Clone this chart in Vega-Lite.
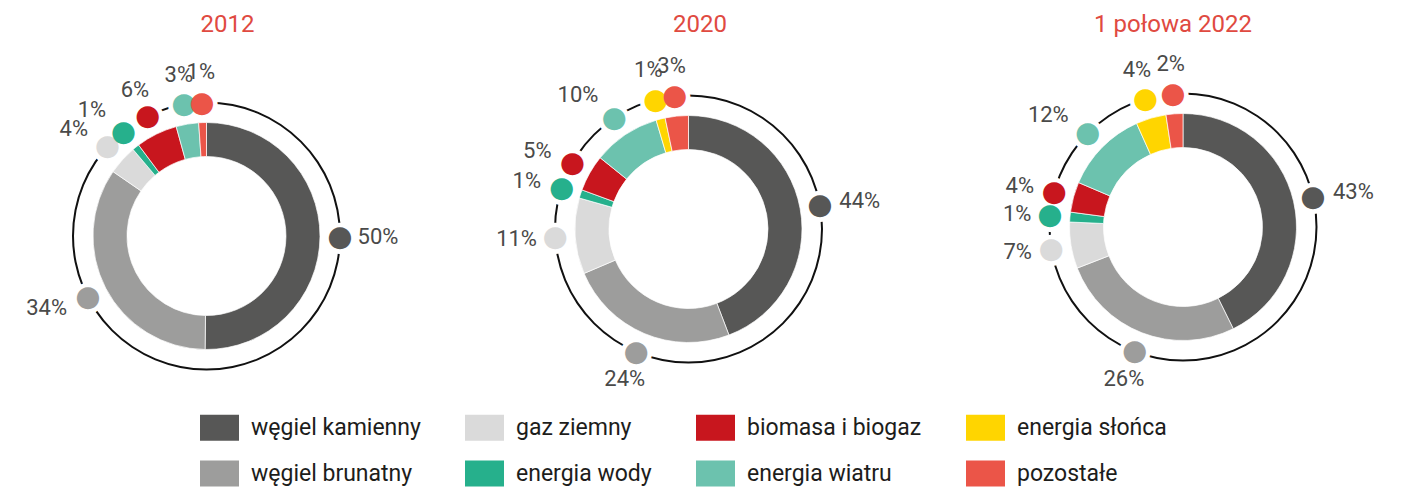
{
  "$schema": "https://vega.github.io/schema/vega-lite/v6.json",
  "background": "white",
  "padding": 0,
  "spacing": 0,
  "config": {"view": {"stroke": null, "fill": "white"}},
  "datasets": {
    "d": [
      {"rok":"2012","zrodlo":"węgiel kamienny","k":1,"udzial":50.2,"etykieta":"50%"},
      {"rok":"2012","zrodlo":"węgiel brunatny","k":2,"udzial":34.4,"etykieta":"34%"},
      {"rok":"2012","zrodlo":"gaz ziemny","k":3,"udzial":4.2,"etykieta":"4%"},
      {"rok":"2012","zrodlo":"energia wody","k":4,"udzial":1.0,"etykieta":"1%"},
      {"rok":"2012","zrodlo":"biomasa i biogaz","k":5,"udzial":5.9,"etykieta":"6%"},
      {"rok":"2012","zrodlo":"energia wiatru","k":6,"udzial":3.2,"etykieta":"3%"},
      {"rok":"2012","zrodlo":"pozostałe","k":8,"udzial":1.1,"etykieta":"1%"},
      {"rok":"2020","zrodlo":"węgiel kamienny","k":1,"udzial":44.2,"etykieta":"44%"},
      {"rok":"2020","zrodlo":"węgiel brunatny","k":2,"udzial":24.4,"etykieta":"24%"},
      {"rok":"2020","zrodlo":"gaz ziemny","k":3,"udzial":10.8,"etykieta":"11%"},
      {"rok":"2020","zrodlo":"energia wody","k":4,"udzial":1.2,"etykieta":"1%"},
      {"rok":"2020","zrodlo":"biomasa i biogaz","k":5,"udzial":5.2,"etykieta":"5%"},
      {"rok":"2020","zrodlo":"energia wiatru","k":6,"udzial":9.6,"etykieta":"10%"},
      {"rok":"2020","zrodlo":"energia słońca","k":7,"udzial":1.3,"etykieta":"1%"},
      {"rok":"2020","zrodlo":"pozostałe","k":8,"udzial":3.3,"etykieta":"3%"},
      {"rok":"2022","zrodlo":"węgiel kamienny","k":1,"udzial":42.7,"etykieta":"43%"},
      {"rok":"2022","zrodlo":"węgiel brunatny","k":2,"udzial":26.4,"etykieta":"26%"},
      {"rok":"2022","zrodlo":"gaz ziemny","k":3,"udzial":6.6,"etykieta":"7%"},
      {"rok":"2022","zrodlo":"energia wody","k":4,"udzial":1.4,"etykieta":"1%"},
      {"rok":"2022","zrodlo":"biomasa i biogaz","k":5,"udzial":4.3,"etykieta":"4%"},
      {"rok":"2022","zrodlo":"energia wiatru","k":6,"udzial":11.9,"etykieta":"12%"},
      {"rok":"2022","zrodlo":"energia słońca","k":7,"udzial":4.3,"etykieta":"4%"},
      {"rok":"2022","zrodlo":"pozostałe","k":8,"udzial":2.4,"etykieta":"2%"}
    ]
  },
  "resolve": {"scale": {"color": "shared", "theta": "independent"}, "legend": {"color": "shared"}},
  "hconcat": [
    {
      "width": 413, "height": 472,
      "title": {"text": "2012", "dx": 21, "offset": -56, "baseline": "alphabetic", "anchor": "middle", "font": "Roboto", "fontSize": 24, "fontWeight": "normal", "color": "#e04a41"},
      "data": {"name": "d"},
      "transform": [{"filter": "datum.rok == '2012'"}],
      "layer": [
        {"data": {"values": [{"rok": "2012"}]}, "mark": {"type": "arc", "radius": 134.5, "radius2": 132.5, "theta": 0, "theta2": 6.2832, "color": "#111111"}, "encoding": {}},
        {"mark": {"type": "arc", "radius": 113.5, "radius2": 79.5, "stroke": "white", "strokeWidth": 0.7},
         "encoding": {"theta": {"field": "udzial", "type": "quantitative", "stack": true}, "order": {"field": "k", "type": "quantitative"},
           "color": {"field": "zrodlo", "type": "nominal",
             "scale": {"domain": ["węgiel kamienny","węgiel brunatny","gaz ziemny","energia wody","biomasa i biogaz","energia wiatru","energia słońca","pozostałe"], "range": ["#575756","#9d9d9c","#dadada","#26b08c","#c8161e","#6cc2ae","#ffd500","#eb5548"]},
             "legend": {"orient": "none", "legendX": 200, "legendY": 408, "columns": 4, "title": null, "symbolType": "M-1,-0.667H1V0.667H-1Z", "symbolSize": 1521, "symbolStrokeWidth": 0, "symbolOpacity": 1, "labelFont": "Roboto", "labelFontSize": 23, "labelColor": "#1d1d1b", "labelOffset": 12, "columnPadding": 44, "rowPadding": 13, "padding": 0, "labelLimit": 400}}}},
        {"mark": {"type": "text", "text": "●", "radius": 133.5, "font": "DejaVu Sans", "fontSize": 41, "color": "white", "align": "center", "baseline": "middle"},
         "encoding": {"theta": {"field": "udzial", "type": "quantitative", "stack": true}, "order": {"field": "k", "type": "quantitative"}, "detail": {"field": "zrodlo"}}},
        {"mark": {"type": "text", "text": "●", "radius": 133.5, "font": "DejaVu Sans", "fontSize": 29, "align": "center", "baseline": "middle"},
         "encoding": {"theta": {"field": "udzial", "type": "quantitative", "stack": true}, "order": {"field": "k", "type": "quantitative"},
           "color": {"field": "zrodlo", "type": "nominal",
             "scale": {"domain": ["węgiel kamienny","węgiel brunatny","gaz ziemny","energia wody","biomasa i biogaz","energia wiatru","energia słońca","pozostałe"], "range": ["#575756","#9d9d9c","#dadada","#26b08c","#c8161e","#6cc2ae","#ffd500","#eb5548"]},
             "legend": {"orient": "none", "legendX": 200, "legendY": 408, "columns": 4, "title": null, "symbolType": "M-1,-0.667H1V0.667H-1Z", "symbolSize": 1521, "symbolStrokeWidth": 0, "symbolOpacity": 1, "labelFont": "Roboto", "labelFontSize": 23, "labelColor": "#1d1d1b", "labelOffset": 12, "columnPadding": 44, "rowPadding": 13, "padding": 0, "labelLimit": 400}}}},
        {"mark": {"type": "text", "radius": {"expr": "151 + 13*abs(cos(PI*(datum.udzial_start+datum.udzial_end)/100))"}, "align": {"expr": "sin(PI*(datum.udzial_start+datum.udzial_end)/100) > 0.5 ? 'left' : (sin(PI*(datum.udzial_start+datum.udzial_end)/100) < -0.5 ? 'right' : 'center')"}, "font": "Roboto", "fontSize": 22, "color": "#4a4a49", "baseline": "middle"},
         "encoding": {"theta": {"field": "udzial", "type": "quantitative", "stack": true}, "order": {"field": "k", "type": "quantitative"}, "detail": {"field": "zrodlo"}, "text": {"field": "etykieta", "type": "nominal"}}}
      ]
    },
    {
      "width": 551, "height": 458,
      "title": {"text": "2020", "dx": 11.5, "offset": -56, "baseline": "alphabetic", "anchor": "middle", "font": "Roboto", "fontSize": 24, "fontWeight": "normal", "color": "#e04a41"},
      "data": {"name": "d"},
      "transform": [{"filter": "datum.rok == '2020'"}],
      "layer": [
        {"data": {"values": [{"rok": "2020"}]}, "mark": {"type": "arc", "radius": 134.5, "radius2": 132.5, "theta": 0, "theta2": 6.2832, "color": "#111111"}, "encoding": {}},
        {"mark": {"type": "arc", "radius": 113.5, "radius2": 79.5, "stroke": "white", "strokeWidth": 0.7},
         "encoding": {"theta": {"field": "udzial", "type": "quantitative", "stack": true}, "order": {"field": "k", "type": "quantitative"},
           "color": {"field": "zrodlo", "type": "nominal",
             "scale": {"domain": ["węgiel kamienny","węgiel brunatny","gaz ziemny","energia wody","biomasa i biogaz","energia wiatru","energia słońca","pozostałe"], "range": ["#575756","#9d9d9c","#dadada","#26b08c","#c8161e","#6cc2ae","#ffd500","#eb5548"]},
             "legend": {"orient": "none", "legendX": 200, "legendY": 408, "columns": 4, "title": null, "symbolType": "M-1,-0.667H1V0.667H-1Z", "symbolSize": 1521, "symbolStrokeWidth": 0, "symbolOpacity": 1, "labelFont": "Roboto", "labelFontSize": 23, "labelColor": "#1d1d1b", "labelOffset": 12, "columnPadding": 44, "rowPadding": 13, "padding": 0, "labelLimit": 400}}}},
        {"mark": {"type": "text", "text": "●", "radius": 133.5, "font": "DejaVu Sans", "fontSize": 41, "color": "white", "align": "center", "baseline": "middle"},
         "encoding": {"theta": {"field": "udzial", "type": "quantitative", "stack": true}, "order": {"field": "k", "type": "quantitative"}, "detail": {"field": "zrodlo"}}},
        {"mark": {"type": "text", "text": "●", "radius": 133.5, "font": "DejaVu Sans", "fontSize": 29, "align": "center", "baseline": "middle"},
         "encoding": {"theta": {"field": "udzial", "type": "quantitative", "stack": true}, "order": {"field": "k", "type": "quantitative"},
           "color": {"field": "zrodlo", "type": "nominal",
             "scale": {"domain": ["węgiel kamienny","węgiel brunatny","gaz ziemny","energia wody","biomasa i biogaz","energia wiatru","energia słońca","pozostałe"], "range": ["#575756","#9d9d9c","#dadada","#26b08c","#c8161e","#6cc2ae","#ffd500","#eb5548"]},
             "legend": {"orient": "none", "legendX": 200, "legendY": 408, "columns": 4, "title": null, "symbolType": "M-1,-0.667H1V0.667H-1Z", "symbolSize": 1521, "symbolStrokeWidth": 0, "symbolOpacity": 1, "labelFont": "Roboto", "labelFontSize": 23, "labelColor": "#1d1d1b", "labelOffset": 12, "columnPadding": 44, "rowPadding": 13, "padding": 0, "labelLimit": 400}}}},
        {"mark": {"type": "text", "radius": {"expr": "151 + 13*abs(cos(PI*(datum.udzial_start+datum.udzial_end)/100))"}, "align": {"expr": "sin(PI*(datum.udzial_start+datum.udzial_end)/100) > 0.5 ? 'left' : (sin(PI*(datum.udzial_start+datum.udzial_end)/100) < -0.5 ? 'right' : 'center')"}, "font": "Roboto", "fontSize": 22, "color": "#4a4a49", "baseline": "middle"},
         "encoding": {"theta": {"field": "udzial", "type": "quantitative", "stack": true}, "order": {"field": "k", "type": "quantitative"}, "detail": {"field": "zrodlo"}, "text": {"field": "etykieta", "type": "nominal"}}}
      ]
    },
    {
      "width": 438, "height": 454,
      "title": {"text": "1 połowa 2022", "dx": -10, "offset": -56, "baseline": "alphabetic", "anchor": "middle", "font": "Roboto", "fontSize": 24, "fontWeight": "normal", "color": "#e04a41"},
      "data": {"name": "d"},
      "transform": [{"filter": "datum.rok == '2022'"}],
      "layer": [
        {"data": {"values": [{"rok": "2022"}]}, "mark": {"type": "arc", "radius": 134.5, "radius2": 132.5, "theta": 0, "theta2": 6.2832, "color": "#111111"}, "encoding": {}},
        {"mark": {"type": "arc", "radius": 113.5, "radius2": 79.5, "stroke": "white", "strokeWidth": 0.7},
         "encoding": {"theta": {"field": "udzial", "type": "quantitative", "stack": true}, "order": {"field": "k", "type": "quantitative"},
           "color": {"field": "zrodlo", "type": "nominal",
             "scale": {"domain": ["węgiel kamienny","węgiel brunatny","gaz ziemny","energia wody","biomasa i biogaz","energia wiatru","energia słońca","pozostałe"], "range": ["#575756","#9d9d9c","#dadada","#26b08c","#c8161e","#6cc2ae","#ffd500","#eb5548"]},
             "legend": {"orient": "none", "legendX": 200, "legendY": 408, "columns": 4, "title": null, "symbolType": "M-1,-0.667H1V0.667H-1Z", "symbolSize": 1521, "symbolStrokeWidth": 0, "symbolOpacity": 1, "labelFont": "Roboto", "labelFontSize": 23, "labelColor": "#1d1d1b", "labelOffset": 12, "columnPadding": 44, "rowPadding": 13, "padding": 0, "labelLimit": 400}}}},
        {"mark": {"type": "text", "text": "●", "radius": 133.5, "font": "DejaVu Sans", "fontSize": 41, "color": "white", "align": "center", "baseline": "middle"},
         "encoding": {"theta": {"field": "udzial", "type": "quantitative", "stack": true}, "order": {"field": "k", "type": "quantitative"}, "detail": {"field": "zrodlo"}}},
        {"mark": {"type": "text", "text": "●", "radius": 133.5, "font": "DejaVu Sans", "fontSize": 29, "align": "center", "baseline": "middle"},
         "encoding": {"theta": {"field": "udzial", "type": "quantitative", "stack": true}, "order": {"field": "k", "type": "quantitative"},
           "color": {"field": "zrodlo", "type": "nominal",
             "scale": {"domain": ["węgiel kamienny","węgiel brunatny","gaz ziemny","energia wody","biomasa i biogaz","energia wiatru","energia słońca","pozostałe"], "range": ["#575756","#9d9d9c","#dadada","#26b08c","#c8161e","#6cc2ae","#ffd500","#eb5548"]},
             "legend": {"orient": "none", "legendX": 200, "legendY": 408, "columns": 4, "title": null, "symbolType": "M-1,-0.667H1V0.667H-1Z", "symbolSize": 1521, "symbolStrokeWidth": 0, "symbolOpacity": 1, "labelFont": "Roboto", "labelFontSize": 23, "labelColor": "#1d1d1b", "labelOffset": 12, "columnPadding": 44, "rowPadding": 13, "padding": 0, "labelLimit": 400}}}},
        {"mark": {"type": "text", "radius": {"expr": "151 + 13*abs(cos(PI*(datum.udzial_start+datum.udzial_end)/100))"}, "align": {"expr": "sin(PI*(datum.udzial_start+datum.udzial_end)/100) > 0.5 ? 'left' : (sin(PI*(datum.udzial_start+datum.udzial_end)/100) < -0.5 ? 'right' : 'center')"}, "font": "Roboto", "fontSize": 22, "color": "#4a4a49", "baseline": "middle"},
         "encoding": {"theta": {"field": "udzial", "type": "quantitative", "stack": true}, "order": {"field": "k", "type": "quantitative"}, "detail": {"field": "zrodlo"}, "text": {"field": "etykieta", "type": "nominal"}}}
      ]
    }
  ]
}
